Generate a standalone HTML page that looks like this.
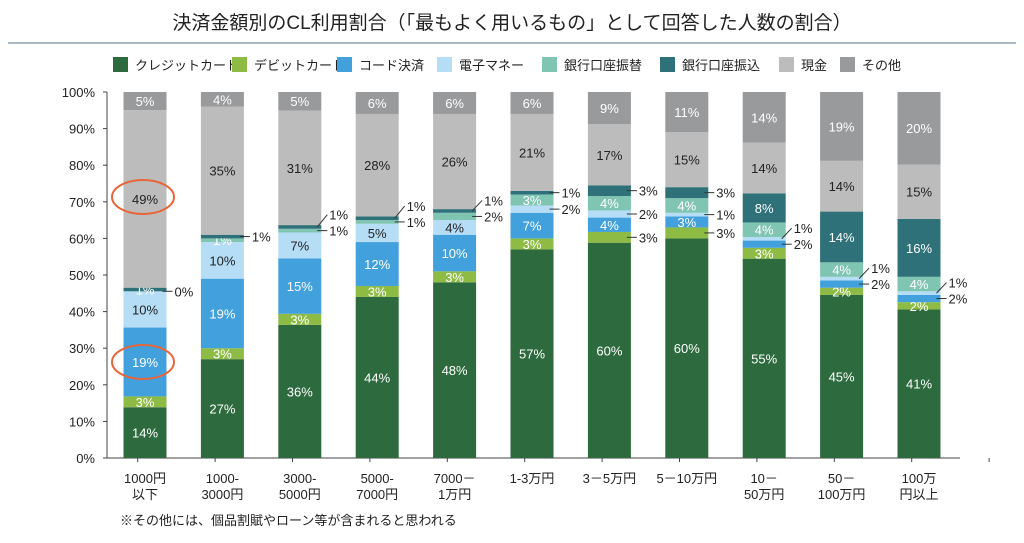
<!DOCTYPE html>
<html><head><meta charset="utf-8">
<style>
body{margin:0;background:#fff;}
svg{display:block;font-family:"Liberation Sans","Noto Sans CJK JP",sans-serif;}
</style></head>
<body>
<svg id="chart" width="1024" height="543" viewBox="0 0 1024 543" xmlns="http://www.w3.org/2000/svg">
<text x="512" y="29" text-anchor="middle" font-size="19" fill="#222">決済金額別のCL利用割合（「最もよく用いるもの」として回答した人数の割合）</text>
<line x1="8" y1="43" x2="1016" y2="43" stroke="#8ea0b0" stroke-width="1.5"/>
<g id="legend"></g>
<g id="axis"></g>
<g id="bars"></g>
<g id="xlabels"></g>
<ellipse cx="143" cy="197" rx="31" ry="17" fill="none" stroke="#e8653a" stroke-width="2"/>
<ellipse cx="143" cy="362" rx="31" ry="17" fill="none" stroke="#e8653a" stroke-width="2"/>
<text x="120" y="525" font-size="13" fill="#222">※その他には、個品割賦やローン等が含まれると思われる</text>
</svg>
<script>
const categories=[["1000円","以下"],["1000-","3000円"],["3000-","5000円"],["5000-","7000円"],["7000－","1万円"],["1-3万円",""],["3－5万円",""],["5－10万円",""],["10－","50万円"],["50－","100万円"],["100万","円以上"]];
const seriesNames=["クレジットカード","デビットカード","コード決済","電子マネー","銀行口座振替","銀行口座振込","現金","その他"];
const credit=[14,27,36,44,48,57,60,60,55,45,41];
const debit=[3,3,3,3,3,3,3,3,3,2,2];
const code=[19,19,15,12,10,7,4,3,2,2,2];
const emoney=[10,10,7,5,4,2,2,1,1,1,1];
const transfer=[0,1,1,1,2,3,4,4,4,4,4];
const remit=[1,1,1,1,1,1,3,3,8,14,16];
const cash=[49,35,31,28,26,21,17,15,14,14,15];
const other=[5,4,5,6,6,6,9,11,14,19,20];
const yTicks=[0,10,20,30,40,50,60,70,80,90,100];
const outside=[[4],[5],[4,5],[4,5],[4,5],[5,3],[5,3,1],[5,3,1],[3,2],[3,2],[3,2]];
const series=[credit,debit,code,emoney,transfer,remit,cash,other];
const colors=["#2d6a3e","#8dbb44","#42a0dc","#b5ddf6","#80c4b2","#2f7178","#bcbcbc","#999a9c"];
const textCol=["#fff","#fff","#fff","#222","#fff","#fff","#222","#fff"];
const NS="http://www.w3.org/2000/svg";
const y0=458,y1=92,x0=107,step=77.4,bw=43,first=145;
const yS=v=>y0-(y0-y1)*v/100;
const xC=i=>first+i*step;
function mk(t,a,p){const e=document.createElementNS(NS,t);for(const k in a)e.setAttribute(k,a[k]);p.appendChild(e);return e;}
const ax=document.getElementById('axis');
const al=mk('line',{x1:x0,y1:y1,x2:x0,y2:y0,stroke:'#444'},ax);


const bl=mk('line',{x1:x0,y1:y0,x2:960,y2:y0,stroke:'#444'},ax);


yTicks.forEach(t=>{
 const y=yS(t);
 mk('line',{x1:x0-4,y1:y,x2:x0,y2:y,stroke:'#444'},ax);
 const tx=mk('text',{x:x0-12,y:y+5,'text-anchor':'end','font-size':13,fill:'#222'},ax);
 tx.textContent=t+'%';
 
 
});
for(let i=0;i<=categories.length;i++){const x=x0+(i+0.5)*step-8;mk('line',{x1:x,y1:y0,x2:x,y2:y0+4,stroke:'#444'},ax);}
// legend
const lg=document.getElementById('legend');
const lx=[113,232,337,437,542,660,779,840];
seriesNames.forEach((n,k)=>{
 const r=mk('rect',{x:lx[k],y:57,width:15,height:15,fill:colors[k]},lg);
 
 
 const t=mk('text',{x:lx[k]+22,y:70,'font-size':13,fill:'#222'},lg);
 t.textContent=n;
 
 
});
const bg=document.getElementById('bars');
categories.forEach((c,i)=>{
 const tot=series.reduce((s,a)=>s+a[i],0);
 let acc=0;const outs=[];
 series.forEach((arr,k)=>{
  const v=arr[i];const ya=yS(acc/tot*100),yb=yS((acc+v)/tot*100);acc+=v;
  const r=mk('rect',{x:xC(i)-bw/2,y:yb,width:bw,height:Math.max(ya-yb,0),fill:colors[k]},bg);
  
  
  const cy=(ya+yb)/2;
  if(outside[i].includes(k)){outs.push({k,v,cy});return;}
  if(v<=0)return;
  const t=mk('text',{x:xC(i),y:cy+5,'text-anchor':'middle','font-size':13,fill:textCol[k]},bg);
  t.textContent=v+'%';
  
  
 });
 outs.sort((a,b)=>b.cy-a.cy);
 let prev=1e9;
 outs.forEach(o=>{
  let ly=Math.min(o.cy,prev-16);prev=ly;
  const ex=xC(i)+bw/2;
  mk('line',{x1:ex-4,y1:o.cy,x2:ex+6,y2:ly,stroke:'#333','stroke-width':1},bg);
  const t=mk('text',{x:ex+8,y:ly+5,'font-size':13,fill:'#222'},bg);
  t.textContent=o.v+'%';
  
  
 });
});
const xl=document.getElementById('xlabels');
categories.forEach((c,i)=>{
 c.forEach((s,j)=>{
  if(!s)return;
  const t=mk('text',{x:xC(i),y:483+j*16,'text-anchor':'middle','font-size':13,fill:'#222'},xl);
  t.textContent=s;
  
  
 });
});
</script>
</body></html>
